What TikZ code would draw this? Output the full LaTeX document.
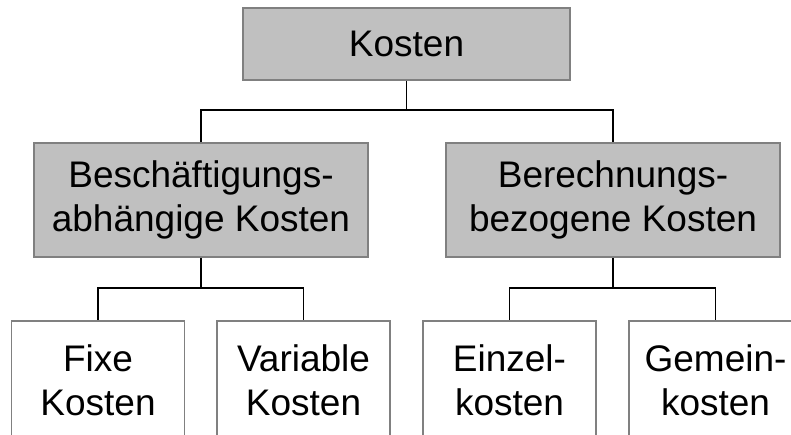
\documentclass[tikz,border=0pt]{standalone}
\usepackage{fontspec}
\setmainfont{Liberation Sans}
\definecolor{boxgray}{HTML}{C0C0C0}
\definecolor{edgegray}{HTML}{808080}
\begin{document}
\begin{tikzpicture}[x=1pt,y=-1pt,
  box/.style={draw=edgegray,line width=1.6pt,rectangle,inner sep=0pt,align=center,
    font=\fontsize{37}{44}\selectfont},
  graybox/.style={box,fill=boxgray},
  whitebox/.style={box,fill=white,minimum width=173pt,minimum height=118pt},
  conn/.style={line width=1.8pt,black}]
\useasboundingbox (0,0) rectangle (791,434);
\clip (0,0) rectangle (791,434);
\node[graybox,minimum width=327pt,minimum height=72pt] (top) at (406.5,44) {Kosten};
\node[graybox,minimum width=334pt,minimum height=114pt] (l) at (201,200) {Beschäftigungs-\\abhängige Kosten};
\node[graybox,minimum width=334pt,minimum height=114pt] (r) at (613,200) {Berechnungs-\\bezogene Kosten};
\node[whitebox] (l1) at (98,380) {Fixe\\Kosten};
\node[whitebox] (l2) at (303.5,380) {Variable\\Kosten};
\node[whitebox] (r1) at (509.5,380) {Einzel-\\kosten};
\node[whitebox] (r2) at (715.5,380) {Gemein-\\kosten};
\coordinate (j0) at (406.5,110);
\coordinate (j1) at (201,288);
\coordinate (j2) at (613,288);
\draw[conn] (top.south) -- (j0);
\draw[conn] (j0) -| (l.north);
\draw[conn] (j0) -| (r.north);
\draw[conn] (l.south) -- (j1);
\draw[conn] (j1) -| (l1.north);
\draw[conn] (j1) -| (l2.north);
\draw[conn] (r.south) -- (j2);
\draw[conn] (j2) -| (r1.north);
\draw[conn] (j2) -| (r2.north);
\end{tikzpicture}
\end{document}
